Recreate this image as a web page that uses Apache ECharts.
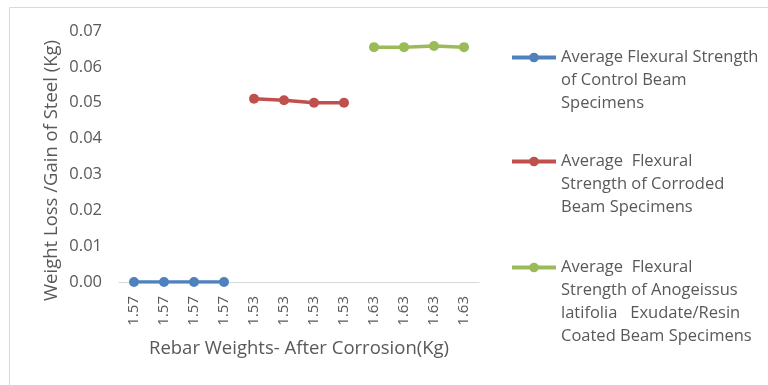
<!DOCTYPE html>
<html>
<head>
<meta charset="utf-8">
<script src="https://cdn.jsdelivr.net/npm/echarts@6/dist/echarts.min.js"></script>
<style>
  html, body { margin: 0; padding: 0; background: #fff; }
  #main { width: 768px; height: 385px; }
</style>
</head>
<body>
<div id="main"></div>
<script>
// 横轴类别
var categories = ["1.57", "1.57", "1.57", "1.57", "1.53", "1.53", "1.53", "1.53", "1.63", "1.63", "1.63", "1.63"]
// 三组数据
var controlData = [0, 0, 0, 0, null, null, null, null, null, null, null, null]
var corrodedData = [null, null, null, null, 0.0511, 0.0507, 0.0500, 0.0500, null, null, null, null]
var coatedData = [null, null, null, null, null, null, null, null, 0.0655, 0.0655, 0.0658, 0.0655]
var seriesNames = [
  "Average Flexural Strength\nof Control Beam\nSpecimens",
  "Average  Flexural\nStrength of Corroded\nBeam Specimens",
  "Average  Flexural\nStrength of Anogeissus\nlatifolia   Exudate/Resin\nCoated Beam Specimens"
]
var colors = ["#4F81BD", "#C0504D", "#9BBB59"]

var font = "Open Sans"
var lh = 23

var chartDom = document.getElementById("main")
var myChart = echarts.init(chartDom)

// 图例文字多行时，让图标对齐第一行：前面补空行
function makeLegend(name, top) {
  var lines = name.split("\n").length
  var pad = new Array(lines).join("\n")
  return {
    data: [name],
    left: 510,
    top: top,
    padding: 0,
    itemWidth: 44,
    itemHeight: 12,
    itemGap: 0,
    lineStyle: { width: 4 },
    formatter: function (n) { return pad + n },
    textStyle: {
      fontFamily: font,
      fontSize: 16.5,
      color: "#595959",
      lineHeight: lh
    }
  }
}

function makeSeries(i, data) {
  return {
    name: seriesNames[i],
    type: "line",
    data: data,
    symbol: "circle",
    symbolSize: 10,
    connectNulls: false,
    lineStyle: { width: 3.5, color: colors[i] },
    itemStyle: { color: colors[i] }
  }
}

var option = {
  animation: false,
  backgroundColor: "#fff",
  graphic: [
    {
      type: "rect",
      shape: { x: 9.5, y: 7.5, width: 770, height: 390 },
      style: { fill: "none", stroke: "#D9D9D9", lineWidth: 1 },
      silent: true
    }
  ],
  legend: [
    makeLegend(seriesNames[0], 0),
    makeLegend(seriesNames[1], 104),
    makeLegend(seriesNames[2], 187)
  ],
  grid: {
    left: 119,
    right: 289,
    top: 31,
    bottom: 103
  },
  xAxis: {
    type: "category",
    data: categories,
    boundaryGap: true,
    name: "Rebar Weights- After Corrosion(Kg)",
    nameLocation: "middle",
    nameGap: 57,
    nameTextStyle: { fontFamily: font, fontSize: 18.5, color: "#595959" },
    axisLine: { lineStyle: { color: "#D9D9D9", width: 1 } },
    axisTick: { show: false },
    axisLabel: {
      rotate: 90,
      interval: 0,
      margin: 14,
      fontFamily: font,
      fontSize: 15,
      color: "#595959"
    },
    splitLine: { show: false }
  },
  yAxis: {
    type: "value",
    min: 0,
    max: 0.07,
    interval: 0.01,
    name: "Weight Loss /Gain of Steel (Kg)",
    nameLocation: "middle",
    nameGap: 58,
    nameTextStyle: {
      fontFamily: font,
      fontSize: 18.5,
      color: "#595959",
      padding: [0, 28, 0, 0]
    },
    axisLine: { show: false },
    axisTick: { show: false },
    splitLine: { show: false },
    axisLabel: {
      fontFamily: font,
      fontSize: 16.5,
      color: "#595959",
      margin: 17,
      formatter: function (v) { return v.toFixed(2) }
    }
  },
  series: [
    makeSeries(0, controlData),
    makeSeries(1, corrodedData),
    makeSeries(2, coatedData)
  ]
}

option && myChart.setOption(option)
</script>
</body>
</html>
